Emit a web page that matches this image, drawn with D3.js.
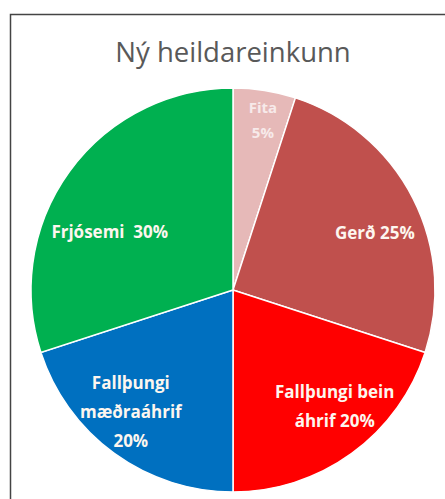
<!DOCTYPE html>
<html>
<head>
<meta charset="utf-8">
<script src="https://cdn.jsdelivr.net/npm/d3@7"></script>
<style>
  html, body { margin: 0; padding: 0; background: #fff; }
  svg { display: block; }
</style>
</head>
<body>
<div id="chart"></div>
<script>
  const categories = ['Fita', 'Gerð', 'Fallþungi bein áhrif', 'Fallþungi mæðraáhrif', 'Frjósemi']
  const values = [5, 25, 20, 20, 30]
  const labelLines = [
    ['Fita', '5%'],
    ['Gerð 25%'],
    ['Fallþungi bein', 'áhrif 20%'],
    ['Fallþungi', 'mæðraáhrif', '20%'],
    ['Frjósemi  30%']
  ]
  const colors = ['#e6b9b8', '#c0504d', '#ff0000', '#0070c0', '#00b050']

  const width = 445
  const height = 499
  const cx = 233
  const cy = 290
  const radius = 202

  // label placement tweaks (radius, angle nudge in degrees)
  const labelRadius = [172, 153, 155, 159, 136]
  const labelNudge = [1, 5, -5, 4, -11]

  const svg = d3.select('#chart')
    .append('svg')
    .attr('width', width)
    .attr('height', height)

  // frame
  svg.append('path')
    .attr('d', 'M10.5,' + height + ' L10.5,14.5 L' + width + ',14.5')
    .attr('fill', 'none')
    .attr('stroke', '#444')
    .attr('stroke-width', 1.5)

  svg.append('text')
    .attr('x', cx)
    .attr('y', 62)
    .attr('text-anchor', 'middle')
    .style('font-family', '"Open Sans", sans-serif')
    .style('font-size', '27.5px')
    .attr('fill', '#595959')
    .text('Ný heildareinkunn')

  const pie = d3.pie().sort(null).value(function (d) { return d })
  const arcs = pie(values)

  const arc = d3.arc().innerRadius(0).outerRadius(radius)

  const g = svg.append('g').attr('transform', 'translate(' + cx + ',' + cy + ')')

  g.selectAll('path.slice')
    .data(arcs)
    .enter()
    .append('path')
    .attr('class', 'slice')
    .attr('d', arc)
    .attr('fill', function (d, i) { return colors[i] })
    .attr('stroke', '#fff')
    .attr('stroke-width', 1.5)

  const labels = g.selectAll('text.label')
    .data(arcs)
    .enter()
    .append('text')
    .attr('class', 'label')
    .attr('text-anchor', 'middle')
    .style('font-family', '"Open Sans", sans-serif')
    .style('font-weight', 'bold')
    .style('font-size', function (d, i) { return i === 0 ? '15px' : '17px' })
    .attr('fill', function (d, i) { return i === 0 ? '#f7eaea' : '#fdf6ef' })
    .attr('transform', function (d, i) {
      const mid = (d.startAngle + d.endAngle) / 2 + labelNudge[i] * Math.PI / 180
      const r = labelRadius[i]
      return 'translate(' + (r * Math.sin(mid)) + ',' + (-r * Math.cos(mid)) + ')'
    })

  labels.each(function (d, i) {
    const lines = labelLines[i]
    const lh = i === 0 ? 25 : 29
    const start = -(lines.length - 1) * lh / 2
    d3.select(this).selectAll('tspan')
      .data(lines)
      .enter()
      .append('tspan')
      .attr('x', 0)
      .attr('y', function (t, j) { return start + j * lh })
      .attr('dy', '0.35em')
      .style('white-space', 'pre')
      .text(function (t) { return t })
  })
</script>
</body>
</html>
